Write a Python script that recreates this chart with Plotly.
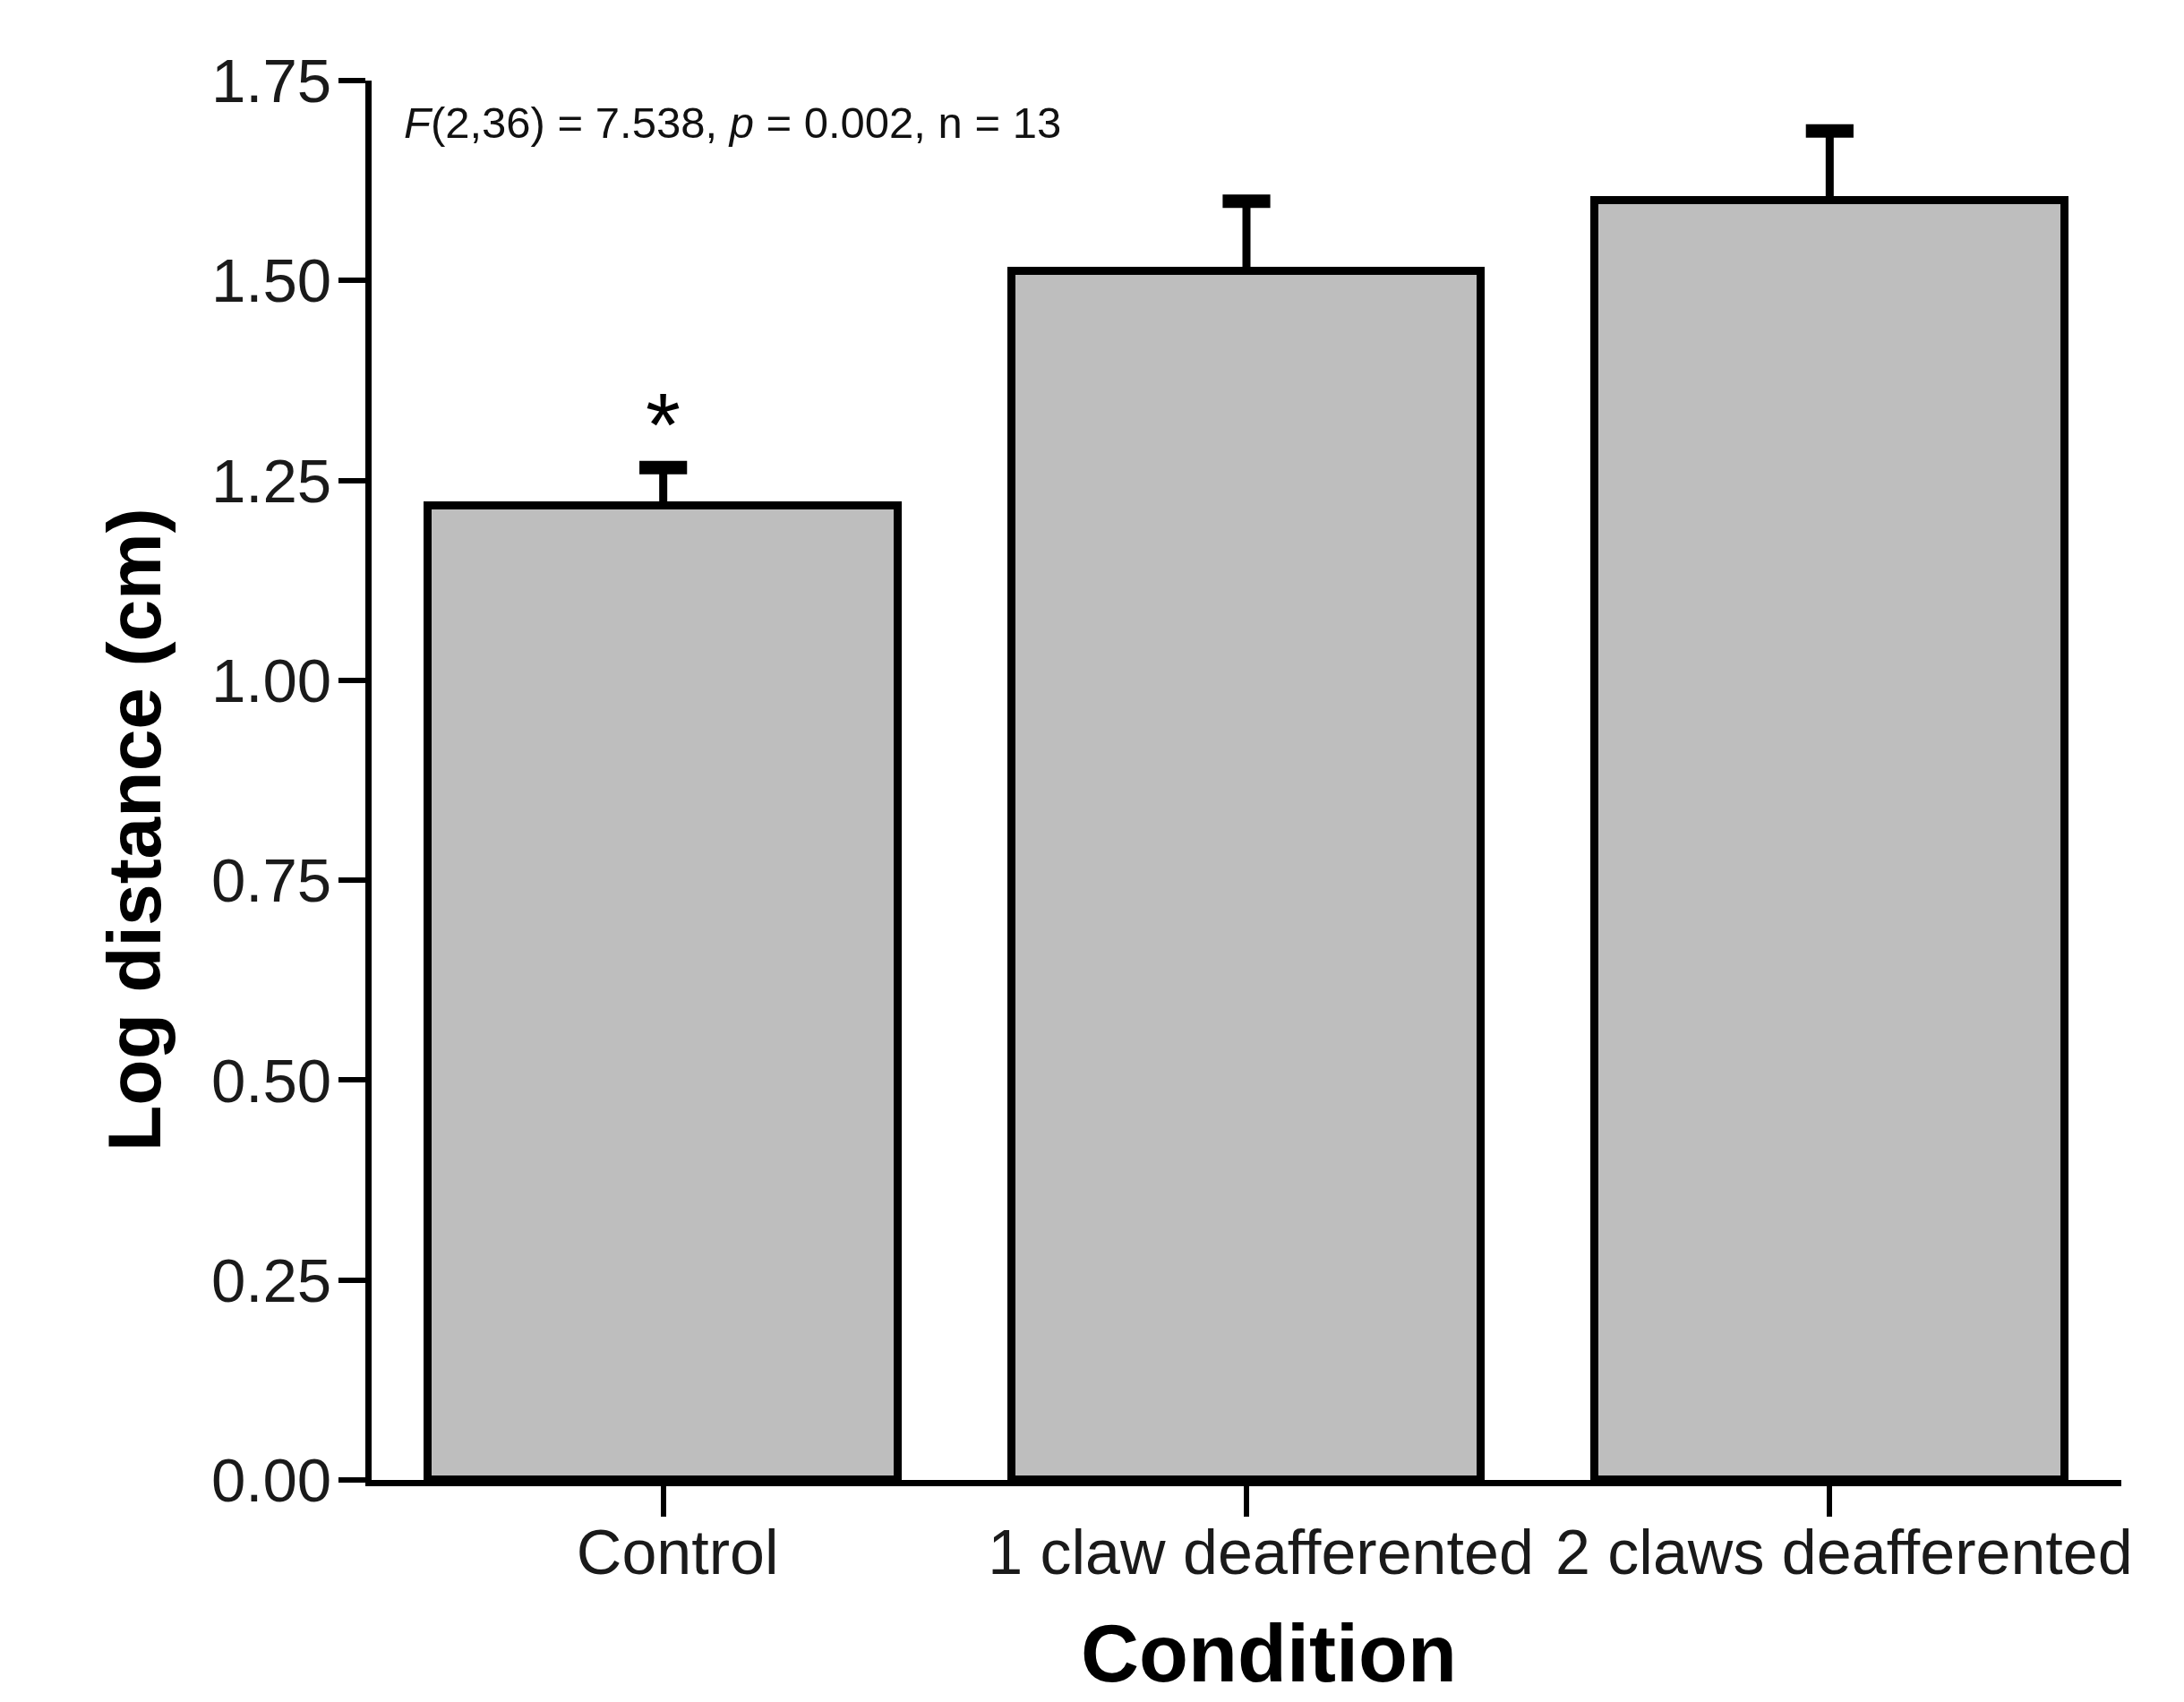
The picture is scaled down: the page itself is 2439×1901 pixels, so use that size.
import plotly.graph_objects as go

categories = ["Control", "1 claw deafferented", "2 claws deafferented"]
means = [1.218, 1.512, 1.600]
sem = [0.048, 0.087, 0.087]
y_ticks = [0.00, 0.25, 0.50, 0.75, 1.00, 1.25, 1.50, 1.75]
y_tick_labels = ["0.00", "0.25", "0.50", "0.75", "1.00", "1.25", "1.50", "1.75"]
sig_marks = ["*", "", ""]

FONT = "Arial, Liberation Sans, Helvetica, sans-serif"
xpos = list(range(len(categories)))
err_top = [m + s for m, s in zip(means, sem)]

fig = go.Figure()
fig.add_trace(go.Bar(
    x=xpos, y=means, width=0.806,
    marker=dict(color="#BEBEBE", line=dict(color="black", width=9)),
    error_y=dict(type="data", symmetric=False, array=sem, arrayminus=[0]*3,
                 color="black", thickness=9, width=0),
    showlegend=False, hoverinfo="skip",
))
# error bar caps
fig.add_trace(go.Scatter(
    x=xpos, y=err_top, mode="markers",
    marker=dict(symbol="line-ew", size=38, line=dict(color="black", width=15)),
    showlegend=False, hoverinfo="skip",
))

for i, s in enumerate(sig_marks):
    if s:
        fig.add_annotation(x=xpos[i], y=err_top[i], text=s, showarrow=False,
                           xref="x", yref="y", yanchor="bottom", yshift=-10,
                           font=dict(family=FONT, size=100, color="black"))

fig.add_annotation(xref="paper", yref="paper", x=0.0175, y=0.970, xanchor="left", yanchor="middle",
                   text="<i>F</i>(2,36) = 7.538, <i>p</i> = 0.002, n = 13", showarrow=False,
                   font=dict(family=FONT, size=49, color="#111"))
fig.add_annotation(xref="paper", yref="paper", x=0, y=0.4645, xanchor="center", yanchor="middle",
                   xshift=-265, textangle=-90, text="<b>Log distance (cm)</b>", showarrow=False,
                   font=dict(family=FONT, size=84, color="black"))
fig.add_annotation(xref="paper", yref="paper", x=0.513, y=0, xanchor="center", yanchor="bottom",
                   yshift=-246, text="<b>Condition</b>", showarrow=False,
                   font=dict(family=FONT, size=90, color="black"))

fig.update_layout(
    width=2439, height=1901,
    margin=dict(l=407, r=78, t=82, b=256, autoexpand=False),
    plot_bgcolor="white", paper_bgcolor="white",
    font=dict(family=FONT, color="#1a1a1a"),
    bargap=0,
)
fig.update_xaxes(
    range=[-0.5, 2.5], tickmode="array", tickvals=xpos, ticktext=categories,
    showline=True, linecolor="black", linewidth=7, ticks="outside", ticklen=34,
    tickwidth=6, tickcolor="black", showgrid=False, zeroline=False,
    ticklabelstandoff=-20, ticklabelshift=16,
    tickfont=dict(family=FONT, size=70, color="#1a1a1a"),
)
fig.update_yaxes(
    range=[0, 1.75], tickmode="array", tickvals=y_ticks, ticktext=y_tick_labels,
    showline=True, linecolor="black", linewidth=7, ticks="outside", ticklen=30,
    tickwidth=6, tickcolor="black", showgrid=False, zeroline=False,
    ticklabelstandoff=-6,
    tickfont=dict(family=FONT, size=69, color="#1a1a1a"),
)

fig.write_html("out.html")
